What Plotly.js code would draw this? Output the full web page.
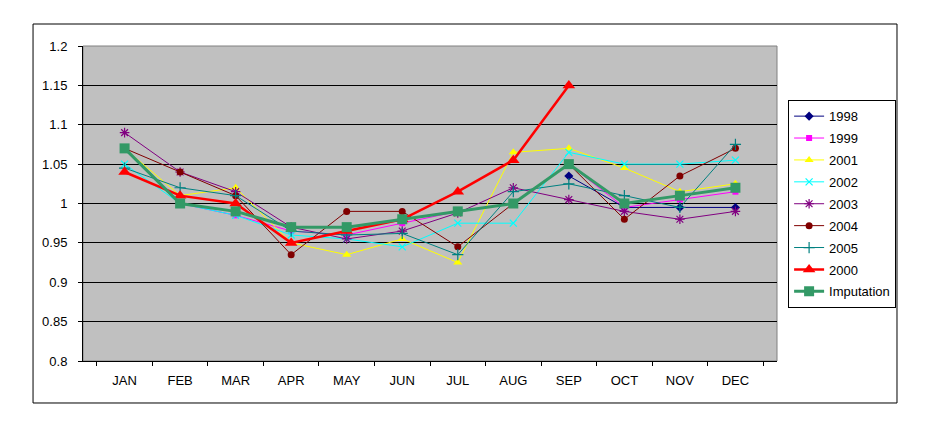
<!DOCTYPE html>
<html>
<head>
<meta charset="utf-8">
<script src="https://cdn.plot.ly/plotly-3.0.1.min.js"></script>
<style>
  html, body { margin: 0; padding: 0; background: #fff; }
  #chart { width: 930px; height: 424px; }
</style>
</head>
<body>
<div id="chart"></div>
<script>
// month categories
const months = ['JAN', 'FEB', 'MAR', 'APR', 'MAY', 'JUN', 'JUL', 'AUG', 'SEP', 'OCT', 'NOV', 'DEC'];

// seasonal factors (null = no value)
const y1998 = [null, null, null, null, null, null, null, null, 1.035, 0.995, 0.995, 0.995];
const y1999 = [1.07, 1.0, 0.985, 0.965, 0.96, 0.975, 0.99, 1.0, 1.05, 0.995, 1.005, 1.015];
const y2001 = [1.07, 1.01, 1.02, 0.95, 0.935, 0.955, 0.925, 1.065, 1.07, 1.045, 1.015, 1.025];
const y2002 = [1.05, 1.0, 0.985, 0.96, 0.955, 0.945, 0.975, 0.975, 1.065, 1.05, 1.05, 1.055];
const y2003 = [1.09, 1.04, 1.015, 0.97, 0.955, 0.965, 0.988, 1.02, 1.005, 0.99, 0.98, 0.99];
const y2004 = [1.07, 1.04, 1.01, 0.935, 0.99, 0.99, 0.945, 1.0, 1.05, 0.98, 1.035, 1.07];
const y2005 = [1.045, 1.02, 1.01, 0.965, 0.96, 0.962, 0.935, 1.015, 1.025, 1.01, 0.995, 1.075];
const y2000 = [1.04, 1.01, 1.0, 0.95, 0.965, 0.98, 1.015, 1.055, 1.15, null, null, null];
const imputation = [1.07, 1.0, 0.99, 0.97, 0.97, 0.98, 0.99, 1.0, 1.05, 1.0, 1.01, 1.02];

// y axis ticks
const yTicks = [0.8, 0.85, 0.9, 0.95, 1.0, 1.05, 1.1, 1.15, 1.2];
const yTickText = ['0.8', '0.85', '0.9', '0.95', '1', '1.05', '1.1', '1.15', '1.2'];

function thin(name, y, color, symbol, size, open) {
    return {
        x: months, y: y, name: name, legendgroup: name,
        type: 'scatter', mode: 'lines+markers',
        line: { color: color, width: 1 },
        marker: {
            symbol: symbol, size: size, color: color,
            line: { color: color, width: open ? 1.2 : 0 }
        }
    };
}

const data = [
    thin('1998', y1998, '#000080', 'diamond', 7),
    thin('1999', y1999, '#FF00FF', 'square', 6),
    thin('2001', y2001, '#FFFF00', 'triangle-up', 8),
    thin('2002', y2002, '#00FFFF', 'x-thin-open', 7, true),
    thin('2003', y2003, '#800080', 'asterisk-open', 8, true),
    thin('2004', y2004, '#800000', 'circle', 7),
    thin('2005', y2005, '#008080', 'cross-thin-open', 8, true),
    {
        x: months, y: y2000, name: '2000', legendgroup: '2000',
        type: 'scatter', mode: 'lines+markers',
        line: { color: '#FF0000', width: 2.5 },
        marker: { symbol: 'triangle-up', size: 11, color: '#FF0000' }
    },
    {
        x: months, y: imputation, name: 'Imputation', legendgroup: 'Imputation',
        type: 'scatter', mode: 'lines+markers',
        line: { color: '#339966', width: 3 },
        marker: { symbol: 'square', size: 10, color: '#339966' }
    }
];

const layout = {
    width: 930, height: 424,
    margin: { l: 83, r: 153, t: 46, b: 63 },
    paper_bgcolor: '#fff',
    plot_bgcolor: '#C0C0C0',
    font: { family: 'Liberation Sans, Arial, sans-serif', size: 13, color: '#000' },
    showlegend: true,
    legend: {
        x: 1.016, y: 0.828, xanchor: 'left', yanchor: 'top',
        bgcolor: '#fff', bordercolor: '#000', borderwidth: 1,
        font: { size: 13 },
        itemwidth: 30,
        traceorder: 'grouped',
        tracegroupgap: 2
    },
    xaxis: {
        type: 'category',
        showgrid: false,
        showline: true, linecolor: '#000', linewidth: 1,
        ticks: 'outside', tickson: 'boundaries', ticklen: 4, tickcolor: '#000',
        ticklabelstandoff: 7,
        zeroline: false,
        fixedrange: true
    },
    yaxis: {
        range: [0.8, 1.2],
        tickvals: yTicks, ticktext: yTickText,
        showgrid: true, gridcolor: '#000', gridwidth: 1,
        showline: true, linecolor: '#000', linewidth: 1,
        ticks: 'outside', ticklen: 4, tickcolor: '#000',
        ticklabelstandoff: 8,
        zeroline: false,
        fixedrange: true
    },
    shapes: [
        // plot area frame
        { type: 'rect', xref: 'paper', yref: 'paper', x0: 0, x1: 1, y0: 0, y1: 1,
          line: { color: '#808080', width: 1 }, layer: 'below' },
        // outer chart border
        { type: 'rect', xref: 'paper', yref: 'paper', x0: -0.072, x1: 1.1729, y0: -0.1333, y1: 1.0698,
          line: { color: '#000', width: 1 } }
    ]
};

Plotly.newPlot('chart', data, layout, { displayModeBar: false, staticPlot: true });
</script>
</body>
</html>
